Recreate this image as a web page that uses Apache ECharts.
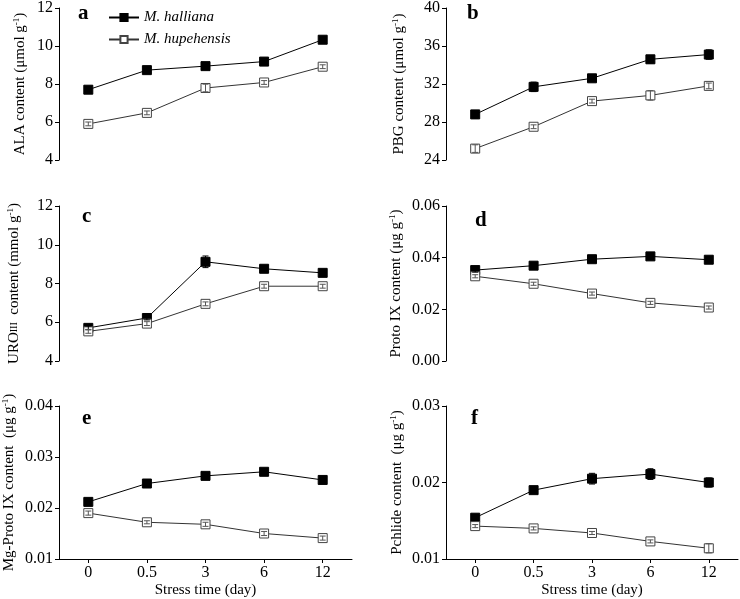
<!DOCTYPE html>
<html>
<head>
<meta charset="UTF-8">
<title></title>
<script src="https://cdn.jsdelivr.net/npm/echarts@6/dist/echarts.min.js"></script>
<style>
	html, body { margin: 0; padding: 0; background: #fff; }
	#main { width: 740px; height: 599px; }
</style>
</head>
<body>
<div id="main"></div>
<script>
	var days = ['0', '0.5', '3', '6', '12'];
	var names = ['M. halliana', 'M. hupehensis'];

	// a ALA
	var alaHal = [7.7, 8.73, 8.94, 9.18, 10.33];
	var alaHup = [5.9, 6.48, 7.79, 8.08, 8.91];
	var alaHalErr = [0.1, 0.1, 0.1, 0.1, 0.1];
	var alaHupErr = [0.1, 0.1, 0.2, 0.1, 0.1];
	// b PBG
	var pbgHal = [28.8, 31.7, 32.6, 34.6, 35.1];
	var pbgHup = [25.2, 27.5, 30.2, 30.8, 31.8];
	var pbgHalErr = [0.4, 0.5, 0.3, 0.4, 0.5];
	var pbgHupErr = [0.4, 0.2, 0.2, 0.5, 0.3];
	// c UROIII
	var uroHal = [5.71, 6.22, 9.12, 8.76, 8.55];
	var uroHup = [5.53, 5.93, 6.95, 7.86, 7.86];
	var uroHalErr = [0.1, 0.1, 0.3, 0.1, 0.1];
	var uroHupErr = [0.1, 0.1, 0.1, 0.1, 0.1];
	// d Proto IX
	var protoHal = [0.0352, 0.0369, 0.0394, 0.0405, 0.0392];
	var protoHup = [0.0328, 0.0299, 0.0261, 0.0225, 0.0207];
	var protoHalErr = [0.0008, 0.0006, 0.0008, 0.0006, 0.0006];
	var protoHupErr = [0.0006, 0.0006, 0.0006, 0.0006, 0.0006];
	// e Mg-Proto IX
	var mgHal = [0.0212, 0.0248, 0.0263, 0.0271, 0.0255];
	var mgHup = [0.0190, 0.0172, 0.0168, 0.0150, 0.0141];
	var mgHalErr = [0.0004, 0.0005, 0.0004, 0.0004, 0.0003];
	var mgHupErr = [0.0004, 0.0003, 0.0004, 0.0004, 0.0004];
	// f Pchlide
	var pchHal = [0.0154, 0.0190, 0.0205, 0.0211, 0.0200];
	var pchHup = [0.0143, 0.0140, 0.0134, 0.0123, 0.0114];
	var pchHalErr = [0.0002, 0.0002, 0.0007, 0.0007, 0.0006];
	var pchHupErr = [0.0002, 0.0002, 0.0002, 0.0002, 0.0006];

	var FONT = 'Liberation Serif';

	var panels = [
		{ letter: 'a', left: 59, top: 5, min: 4, max: 12, step: 2, dec: 0, gap: 30,
			name: '{t|ALA content (μmol g}{s|-1}{t|)}', hal: alaHal, hup: alaHup, halErr: alaHalErr, hupErr: alaHupErr },
		{ letter: 'b', left: 446, top: 5, min: 24, max: 40, step: 4, dec: 0, gap: 38,
			name: '{t|PBG content (μmol g}{s|-1}{t|)}', hal: pbgHal, hup: pbgHup, halErr: pbgHalErr, hupErr: pbgHupErr },
		{ letter: 'c', left: 59, top: 206, min: 4, max: 12, step: 2, dec: 0, gap: 36,
			name: '{t|URO}{r|III}{t|  content (mmol g}{s|-1}{t|)}', hal: uroHal, hup: uroHup, halErr: uroHalErr, hupErr: uroHupErr },
		{ letter: 'd', left: 446, top: 206, min: 0, max: 0.06, step: 0.02, dec: 2, gap: 41,
			name: '{t|Proto IX content (μg g}{s|-1}{t|)}', hal: protoHal, hup: protoHup, halErr: protoHalErr, hupErr: protoHupErr },
		{ letter: 'e', left: 59, top: 406, min: 0.01, max: 0.04, step: 0.01, dec: 2, gap: 41,
			name: '{t|Mg-Proto IX content  (μg g}{s|-1}{t|)}', hal: mgHal, hup: mgHup, halErr: mgHalErr, hupErr: mgHupErr },
		{ letter: 'f', left: 446, top: 406, min: 0.01, max: 0.03, step: 0.01, dec: 2, gap: 40,
			name: '{t|Pchlide content  (μg g}{s|-1}{t|)}', hal: pchHal, hup: pchHup, halErr: pchHalErr, hupErr: pchHupErr }
	];

	// letter offsets from the grid's top-left corner
	var letterPos = [[19, -2], [21, -2], [23, 0], [29, 4], [23, 2], [25, 2]];

	var grid = [], xAxis = [], yAxis = [], series = [], title = [];

	panels.forEach(function(p, i) {
		var bottom = i >= 4;
		grid.push({ left: p.left, top: p.top, width: i % 2 ? 292 : 293, height: 155 });
		title.push({
			text: p.letter, left: p.left + letterPos[i][0], top: p.top + letterPos[i][1],
			padding: 0,
			textStyle: { fontFamily: FONT, fontSize: 21, fontWeight: 'bold', color: '#000' }
		});
		xAxis.push({
			type: 'category', gridIndex: i, data: days, boundaryGap: true,
			axisLine: { show: bottom, lineStyle: { color: '#000', width: 1 } },
			axisTick: { show: bottom, alignWithLabel: true, length: 4, lineStyle: { color: '#000' } },
			axisLabel: { show: bottom, fontFamily: FONT, fontSize: 16, color: '#000', margin: 6 },
			name: bottom ? 'Stress time (day)' : '', nameLocation: 'middle', nameGap: 24,
			nameTextStyle: { fontFamily: FONT, fontSize: 15, color: '#000' }
		});
		yAxis.push({
			type: 'value', gridIndex: i, min: p.min, max: p.max, interval: p.step,
			splitLine: { show: false },
			axisLine: { show: true, lineStyle: { color: '#000', width: 1 } },
			axisTick: { show: true, length: 4, lineStyle: { color: '#000' } },
			axisLabel: {
				fontFamily: FONT, fontSize: 16, color: '#000', margin: 6,
				formatter: function(v) { return v.toFixed(p.dec); }
			},
			name: p.name, nameLocation: 'middle', nameGap: p.gap,
			nameTextStyle: {
				rich: {
					t: { fontFamily: FONT, fontSize: 15, color: '#000' },
					s: { fontFamily: FONT, fontSize: 9, color: '#000', verticalAlign: 'top', padding: [0, 0, 8, 0] },
					r: { fontFamily: FONT, fontSize: 10, color: '#000' }
				}
			}
		});
		[['hal', 'halErr'], ['hup', 'hupErr']].forEach(function(k, j) {
			series.push({
				name: names[j], type: 'line', xAxisIndex: i, yAxisIndex: i,
				data: p[k[0]], symbol: 'rect', symbolSize: 9, showSymbol: true,
				lineStyle: { color: j ? '#333' : '#000', width: 1 },
				itemStyle: { color: j ? '#fff' : '#000', borderColor: j ? '#444' : '#000', borderWidth: 1 },
				emphasis: { disabled: true }, animation: false, z: 3
			});
			series.push({
				type: 'custom', xAxisIndex: i, yAxisIndex: i, z: 4, animation: false, silent: true,
				data: p[k[0]].map(function(v, n) { return [n, v, p[k[1]][n]]; }),
				renderItem: function(params, api) {
					var x = api.value(0), v = api.value(1), e = api.value(2);
					var hi = api.coord([x, v + e]), lo = api.coord([x, v - e]);
					var w = 3;
					var st = { stroke: j ? '#555' : '#000', lineWidth: 1 };
					return { type: 'group', children: [
						{ type: 'line', shape: { x1: hi[0], y1: hi[1], x2: lo[0], y2: lo[1] }, style: st },
						{ type: 'line', shape: { x1: hi[0] - w, y1: hi[1], x2: hi[0] + w, y2: hi[1] }, style: st },
						{ type: 'line', shape: { x1: lo[0] - w, y1: lo[1], x2: lo[0] + w, y2: lo[1] }, style: st }
					] };
				}
			});
		});
	});

	var myChart = echarts.init(document.getElementById('main'));
	myChart.setOption({
		backgroundColor: '#fff',
		animation: false,
		title: title,
		legend: {
			data: names, orient: 'vertical', left: 103, top: 5,
			itemWidth: 30, itemHeight: 9, itemGap: 7,
			textStyle: { fontFamily: FONT, fontSize: 15, fontStyle: 'italic', color: '#000' }
		},
		grid: grid,
		xAxis: xAxis,
		yAxis: yAxis,
		series: series
	});
</script>
</body>
</html>
